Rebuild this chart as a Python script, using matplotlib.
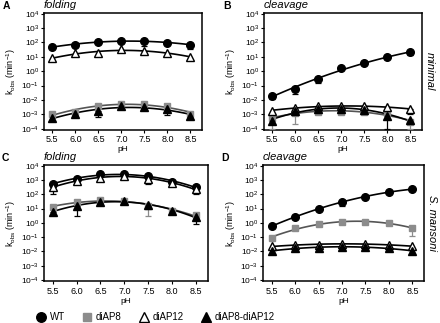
import numpy as np
import matplotlib
matplotlib.use("Agg")
import matplotlib.pyplot as plt
from matplotlib.ticker import LogLocator, LogFormatterSciNotation, NullLocator, FixedLocator

plt.rcParams['font.family'] = ['Liberation Sans', 'DejaVu Sans']
plt.rcParams['mathtext.fontset'] = 'custom'
plt.rcParams['mathtext.rm'] = 'Liberation Sans'
plt.rcParams['mathtext.it'] = 'Liberation Sans:italic'

ph = [5.5, 6.0, 6.5, 7.0, 7.5, 8.0, 8.5]
series_names = ["WT", "diAP8", "diAP12", "diAP8-diAP12"]

# --- valores kobs (min^-1) ---
# A: folding, minimal
a_wt = [50, 70, 100, 130, 130, 90, 70]
a_ap8 = [1.1e-3, 1.5e-3, 3.5e-3, 5e-3, 5e-3, 4e-3, 1.1e-3]
a_ap12 = [8, 17, 18, 35, 25, 17, 10]
a_ap812 = [6e-4, 1.1e-3, 1.6e-3, 3.5e-3, 3e-3, 2.5e-3, 8e-4]
# B: cleavage, minimal
b_wt = [0.02, 0.06, 0.3, 1.6, 3.5, 9, 22]
b_ap8 = [6e-4, 1.2e-3, 1.5e-3, 1.5e-3, 1.4e-3, 1.2e-3, 3e-4]
b_ap12 = [1.8e-3, 2.8e-3, 4e-3, 3.5e-3, 3.5e-3, 3e-3, 2.5e-3]
b_ap812 = [3.5e-4, 1.8e-3, 2.5e-3, 2.5e-3, 2e-3, 8e-4, 4e-4]
# C: folding, S. mansoni
c_wt = [550, 1200, 2500, 2500, 1900, 700, 330]
c_ap8 = [12, 30, 40, 35, 15, 7, 3.5]
c_ap12 = [300, 900, 1500, 2000, 1200, 600, 220]
c_ap812 = [6, 15, 30, 35, 17, 7, 2.5]
# D: cleavage, S. mansoni
d_wt = [0.6, 2.5, 9, 30, 70, 150, 220]
d_ap8 = [0.09, 0.4, 0.8, 1.1, 1.2, 0.9, 0.45]
d_ap12 = [0.022, 0.028, 0.03, 0.033, 0.033, 0.03, 0.022]
d_ap812 = [0.011, 0.016, 0.018, 0.02, 0.02, 0.018, 0.01]

# limites inferiores de las barras de error (None = sin barra)
a_low = {"WT": [None, None, None, None, 55, None, 35],
         "diAP8": [None, None, None, None, None, None, None],
         "diAP12": [None, None, None, None, None, None, None],
         "diAP8-diAP12": [None, None, 7e-4, None, None, 9e-4, 5e-4]}
b_low = {"WT": [0.011, 0.025, 0.15, 1.2, None, None, 13],
         "diAP8": [1e-4, 2.2e-4, None, None, None, None, 1e-4],
         "diAP12": [None, None, None, None, None, None, 1e-3],
         "diAP8-diAP12": [None, None, None, None, None, 1e-4, None]}
c_low = {"WT": [None, None, None, None, None, None, None],
         "diAP8": [None, None, None, None, 3, None, None],
         "diAP12": [100, None, None, None, 500, None, 100],
         "diAP8-diAP12": [3.5, 2.8, None, None, None, None, 0.8]}
d_low = {"WT": [None, None, None, 15, None, None, None],
         "diAP8": [None, None, None, None, None, None, 0.12],
         "diAP12": [None, None, None, None, None, None, None],
         "diAP8-diAP12": [None, None, None, None, None, None, None]}

styles = {
    "WT": dict(marker='o', mfc='black', mec='black', line='black'),
    "diAP8": dict(marker='s', mfc='#8c8c8c', mec='#8c8c8c', line='#555555'),
    "diAP12": dict(marker='^', mfc='white', mec='black', line='black'),
    "diAP8-diAP12": dict(marker='^', mfc='black', mec='black', line='black'),
}
msize = {"WT": 5.5, "diAP8": 5.0, "diAP12": 6.0, "diAP8-diAP12": 5.5}


def draw_panel(ax, data, lows, letter, title, side=None):
    x = np.array(ph)
    xs = np.linspace(5.5, 8.5, 100)
    for name in series_names:
        y = np.array(data[name], dtype=float)
        st = styles[name]
        # curva ajustada (cuadratica en log10)
        coef = np.polyfit(x, np.log10(y), 2)
        ax.plot(xs, 10 ** np.polyval(coef, xs), color=st['line'], lw=1.2, zorder=2)
        low = lows[name]
        for xi, yi, lo in zip(x, y, low):
            if lo is not None:
                ax.errorbar([xi], [yi], yerr=[[yi - lo], [0]], fmt='none',
                            ecolor=st['mfc'] if name == "diAP8" else 'black',
                            elinewidth=0.9, capsize=2.5, capthick=0.9, zorder=3)
        ax.plot(x, y, ls='none', marker=st['marker'], ms=msize[name],
                mfc=st['mfc'], mec=st['mec'], mew=1.0, zorder=4, label=name)

    ax.set_yscale('log')
    ax.set_ylim(10 ** -4.08, 10 ** 4.05)
    ax.set_xlim(5.32, 8.75)
    ax.yaxis.set_major_locator(LogLocator(base=10, numticks=20))
    ax.yaxis.set_major_formatter(LogFormatterSciNotation())
    ax.yaxis.set_minor_locator(NullLocator())
    ax.xaxis.set_major_locator(FixedLocator(ph))
    ax.set_xticklabels([f"{v:.1f}" for v in ph])
    ax.tick_params(axis='y', labelsize=6, length=2, width=0.8, pad=1.5)
    ax.tick_params(axis='x', labelsize=6.5, length=2, width=0.8, pad=2)
    for sp in ax.spines.values():
        sp.set_linewidth(1.1)
    ax.set_xlabel("pH", fontsize=6, labelpad=1.5)
    ax.set_ylabel(r"k$_{\mathrm{obs}}$ (min$^{-1}$)", fontsize=6.5, labelpad=2)
    ax.text(-0.26, 1.015, letter, transform=ax.transAxes, fontsize=7.5,
            fontweight='bold', va='bottom', ha='left')
    ax.text(-0.005, 1.025, title, transform=ax.transAxes, fontsize=8,
            style='italic', va='bottom', ha='left')
    if side:
        ax.text(1.02, 0.5, side, transform=ax.transAxes, fontsize=8,
                style='italic', rotation=270, va='center', ha='left')


fig = plt.figure(figsize=(4.4, 3.23), dpi=100)
ax_a = fig.add_axes([0.100, 0.598, 0.359, 0.362])
ax_b = fig.add_axes([0.600, 0.598, 0.359, 0.362])
ax_c = fig.add_axes([0.100, 0.130, 0.373, 0.359])
ax_d = fig.add_axes([0.598, 0.130, 0.366, 0.359])

draw_panel(ax_a, {"WT": a_wt, "diAP8": a_ap8, "diAP12": a_ap12, "diAP8-diAP12": a_ap812},
           a_low, "A", "folding")
draw_panel(ax_b, {"WT": b_wt, "diAP8": b_ap8, "diAP12": b_ap12, "diAP8-diAP12": b_ap812},
           b_low, "B", "cleavage", "minimal")
draw_panel(ax_c, {"WT": c_wt, "diAP8": c_ap8, "diAP12": c_ap12, "diAP8-diAP12": c_ap812},
           c_low, "C", "folding")
draw_panel(ax_d, {"WT": d_wt, "diAP8": d_ap8, "diAP12": d_ap12, "diAP8-diAP12": d_ap812},
           d_low, "D", "cleavage", "S. mansoni")

handles = [h for h in ax_a.get_lines() if h.get_label() in series_names]
fig.legend(handles, series_names, loc='center left', bbox_to_anchor=(0.08, 0.018),
           ncol=4, frameon=False, fontsize=7, handletextpad=0.3,
           columnspacing=1.7, handlelength=1.2, markerscale=1.25,
           borderpad=0, borderaxespad=0)

fig.savefig("out.png", dpi=100)
